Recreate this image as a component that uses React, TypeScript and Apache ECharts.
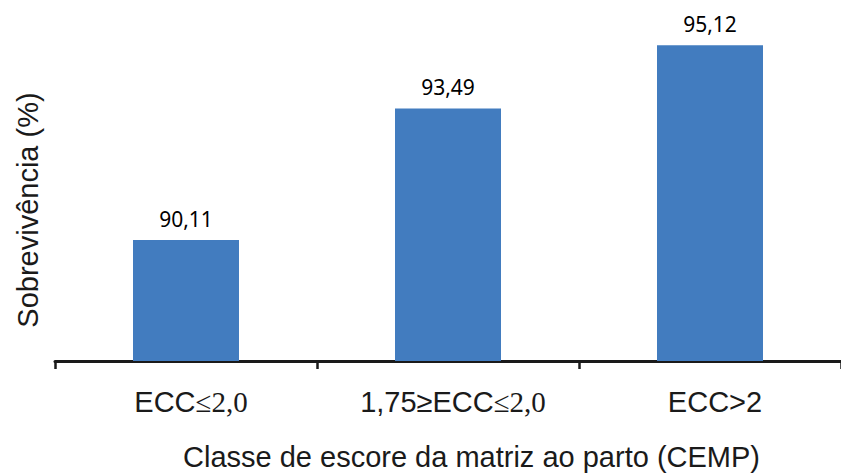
import React, { useEffect, useRef } from "react";
import * as echarts from "echarts";

const categories = ["ECC≤2,0", "1,75≥ECC≤2,0", "ECC>2"];
const survival = [90.11, 93.49, 95.12];
const valueLabels = ["90,11", "93,49", "95,12"];

export default function App() {
  const ref = useRef<HTMLDivElement>(null);
  useEffect(() => {
    if (!ref.current) return;
    const chart = echarts.init(ref.current, null, { renderer: "svg" });
    chart.setOption({
      animation: false,
      backgroundColor: "#ffffff",
      grid: { left: 55, top: 11, width: 791, bottom: 114, containLabel: false },
      xAxis: {
        type: "category",
        data: categories,
        name: "Classe de escore da matriz ao parto (CEMP)",
        nameLocation: "middle",
        nameGap: 81,
        nameTextStyle: {
          fontFamily: "Liberation Sans",
          fontSize: 29,
          color: "#1a1a1a",
          lineHeight: 29,
          padding: [0, 0, 0, 47],
        },
        axisLine: { show: true, lineStyle: { color: "#1a1a1a", width: 3 } },
        axisTick: { show: true, interval: 0, length: 8, lineStyle: { color: "#1a1a1a", width: 2.5 } },
        axisLabel: {
          interval: 0,
          margin: 26,
          fontFamily: "Liberation Sans",
          fontSize: 29,
          lineHeight: 29,
          color: "#1a1a1a",
          padding: [0, 0, 0, 10],
          formatter: (v: string) => v.replace("≤2,0", "{s|≤2,0}"),
          rich: {
            s: { fontFamily: "Liberation Serif", fontSize: 29, lineHeight: 29, color: "#1a1a1a" },
          },
        },
        splitLine: { show: false },
      },
      yAxis: {
        type: "value",
        min: 87,
        max: 96,
        name: "Sobrevivência (%)",
        nameLocation: "middle",
        nameGap: 13,
        nameRotate: 90,
        nameTextStyle: {
          fontFamily: "Liberation Sans",
          fontSize: 29,
          lineHeight: 29,
          color: "#1a1a1a",
          padding: [0, 48, 0, 0],
        },
        axisLine: { show: false },
        axisTick: { show: false },
        axisLabel: { show: false },
        splitLine: { show: false },
      },
      series: [
        {
          type: "bar",
          data: survival,
          barWidth: 106,
          itemStyle: { color: "#427CBF" },
          label: {
            show: true,
            position: "top",
            distance: 11,
            fontFamily: "Noto Sans",
            fontSize: 21,
            color: "#000000",
            formatter: (p: any) => valueLabels[p.dataIndex],
          },
        },
      ],
    });
    return () => chart.dispose();
  }, []);
  return (
    <div
      ref={ref}
      style={{ position: "absolute", left: 0, top: 0, width: 841, height: 476 }}
    />
  );
}
